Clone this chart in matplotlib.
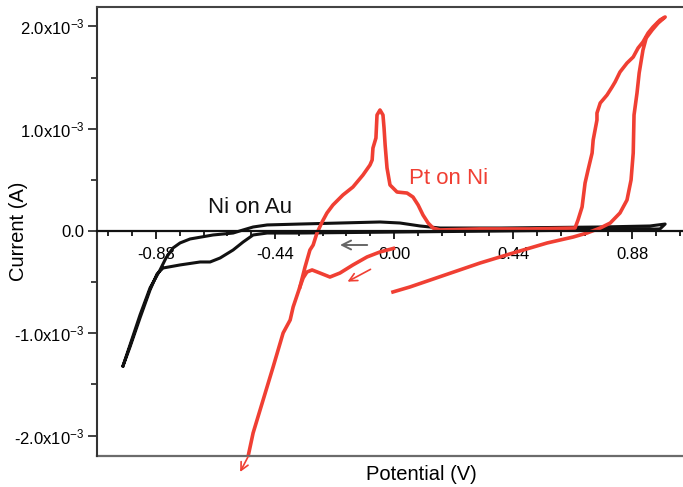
import numpy as np
import matplotlib
matplotlib.use('Agg')
import matplotlib.pyplot as plt
from matplotlib.ticker import MultipleLocator

plt.rcParams['font.family'] = ['Liberation Sans', 'DejaVu Sans']
plt.rcParams['mathtext.default'] = 'regular'
plt.rcParams['axes.unicode_minus'] = False

# Ni on Au, one closed loop (potential in V, current in mA)
ni_v = [-1.002, -0.976, -0.939, -0.902, -0.865, -0.843, -0.817, -0.791, -0.754, -0.669,
        -0.595, -0.558, -0.521, -0.469, -0.348, -0.200, -0.052, 0.022, 0.096, 0.170,
        0.392, 0.762, 0.946, 1.002,
        0.983, 0.762, 0.392, 0.022, -0.348, -0.469, -0.521, -0.558, -0.595, -0.643,
        -0.680, -0.717, -0.791, -0.854, -0.876, -0.902, -0.939, -0.976, -1.002]
ni_i = [-1.320, -1.114, -0.821, -0.557, -0.381, -0.264, -0.166, -0.117, -0.078, -0.039,
        -0.020, 0.010, 0.039, 0.059, 0.068, 0.078, 0.088, 0.078, 0.049, 0.029,
        0.029, 0.039, 0.049, 0.068,
        0.020, 0.010, 0.000, -0.010, -0.020, -0.020, -0.039, -0.108, -0.186, -0.264,
        -0.303, -0.303, -0.332, -0.362, -0.420, -0.577, -0.850, -1.134, -1.320]

# Pt on Ni, sweep from 0 V towards negative potential
pt_neg_v = [0.004, -0.052, -0.100, -0.152, -0.200, -0.237, -0.274, -0.303, -0.322, -0.336,
            -0.348, -0.373, -0.384, -0.410, -0.447, -0.484, -0.521, -0.540]
pt_neg_i = [-0.166, -0.205, -0.254, -0.332, -0.411, -0.450, -0.411, -0.381, -0.401, -0.459,
            -0.547, -0.743, -0.870, -0.997, -1.329, -1.652, -1.975, -2.209]

# Pt on Ni, sweep back to positive potential and return
pt_pos_v = [-0.348, -0.329, -0.311, -0.299, -0.285, -0.266, -0.248, -0.226, -0.189, -0.152,
            -0.115, -0.089, -0.081, -0.078, -0.067, -0.063, -0.052, -0.041, -0.037, -0.033,
            -0.026, -0.015, 0.011, 0.048, 0.070, 0.089, 0.107, 0.126, 0.144, 0.170,
            0.318, 0.503, 0.669, 0.680, 0.695, 0.706, 0.717, 0.732, 0.736, 0.750,
            0.750, 0.762, 0.787, 0.806, 0.817, 0.835, 0.861, 0.884, 0.902, 0.920,
            0.939, 0.957, 0.983, 1.002,
            0.976, 0.954, 0.932, 0.920, 0.906, 0.898, 0.887, 0.884, 0.876, 0.861,
            0.835, 0.799, 0.762, 0.713, 0.662, 0.614, 0.566, 0.440, 0.318, 0.059, -0.004]
pt_pos_i = [-0.547, -0.352, -0.186, -0.137, -0.020, 0.088, 0.176, 0.254, 0.352, 0.430,
            0.547, 0.645, 0.694, 0.811, 0.909, 1.134, 1.183, 1.134, 1.007, 0.841,
            0.616, 0.450, 0.381, 0.371, 0.332, 0.254, 0.156, 0.078, 0.029, 0.010,
            0.020, 0.020, 0.029, 0.108, 0.235, 0.469, 0.596, 0.762, 0.890, 1.085,
            1.153, 1.251, 1.329, 1.408, 1.457, 1.554, 1.642, 1.701, 1.789, 1.848,
            1.936, 1.994, 2.063, 2.092,
            2.033, 1.965, 1.887, 1.769, 1.545, 1.349, 1.134, 0.762, 0.499, 0.303,
            0.176, 0.078, 0.029, -0.020, -0.059, -0.088, -0.117, -0.215, -0.313, -0.547, -0.596]

x_ticks = [-0.88, -0.44, 0.00, 0.44, 0.88]
y_ticks = [-2.0e-3, -1.0e-3, 0.0, 1.0e-3, 2.0e-3]
y_labels = ['-2.0x10$^{-3}$', '-1.0x10$^{-3}$', '0.0', '1.0x10$^{-3}$', '2.0x10$^{-3}$']

red = '#f03f33'
mA = 1e-3

fig = plt.figure(figsize=(6.83, 4.87), dpi=100)
ax = fig.add_axes([97 / 683, 1 - 456 / 487, 1 - 97 / 683, 449 / 487])

ax.plot(ni_v, np.array(ni_i) * mA, color='#111111', lw=2.2, solid_joinstyle='round')
ax.plot(pt_neg_v, np.array(pt_neg_i) * mA, color=red, lw=2.6, clip_on=False,
        solid_joinstyle='round', solid_capstyle='butt')
ax.plot(pt_pos_v, np.array(pt_pos_i) * mA, color=red, lw=2.6, solid_joinstyle='round')

ax.set_xlim(-1.098, 1.068)
ax.set_ylim(-2.20e-3, 2.19e-3)

# frame: left and top, x axis through zero, plain line at the bottom
ax.spines['right'].set_visible(False)
ax.spines['bottom'].set_position(('data', 0))
ax.spines['bottom'].set_color('#111111')
ax.spines['bottom'].set_linewidth(1.6)
ax.spines['left'].set_color('#333333')
ax.spines['left'].set_linewidth(1.5)
ax.spines['top'].set_color('#444444')
ax.spines['top'].set_linewidth(1.5)
ax.plot([0, 1], [0, 0], transform=ax.transAxes, color='#6b6b6b', lw=1.6, clip_on=False)

ax.set_xticks(x_ticks)
ax.set_xticklabels(['%.2f' % v for v in x_ticks])
ax.xaxis.set_minor_locator(MultipleLocator(0.088))
ax.set_yticks(y_ticks)
ax.set_yticklabels(y_labels)
ax.yaxis.set_minor_locator(MultipleLocator(0.5e-3))

ax.tick_params(axis='x', which='major', direction='out', length=6, width=1.3, pad=5.5,
               labelsize=12, color='#111111')
ax.tick_params(axis='x', which='minor', direction='out', length=3.8, width=1.3, color='#111111')
ax.tick_params(axis='y', which='major', direction='out', length=6.5, width=1.3, pad=2.5,
               labelsize=12, color='#333333')
ax.tick_params(axis='y', which='minor', direction='out', length=4.3, width=1.3, color='#333333')

fig.text(421 / 683, 1 - 475 / 487, 'Potential (V)', fontsize=14.5, ha='center', va='center')
fig.text(19 / 683, 1 - 231 / 487, 'Current (A)', fontsize=14.5, ha='center', va='center',
         rotation=90)

ax.text(-0.688, 0.176 * mA, 'Ni on Au', fontsize=16, ha='left', va='baseline', color='#111111')
ax.text(0.055, 0.459 * mA, 'Pt on Ni', fontsize=16, ha='left', va='baseline', color=red)

# sweep direction arrows
ax.annotate('', xy=(-0.210, -0.137 * mA), xytext=(-0.089, -0.137 * mA),
            arrowprops=dict(arrowstyle='->', color='#666666', lw=1.4, mutation_scale=16))
ax.annotate('', xy=(-0.181, -0.508 * mA), xytext=(-0.078, -0.362 * mA),
            arrowprops=dict(arrowstyle='->', color=red, lw=1.2, mutation_scale=14))
ax.annotate('', xy=(-0.569, -2.356 * mA), xytext=(-0.540, -2.209 * mA),
            annotation_clip=False,
            arrowprops=dict(arrowstyle='->', color=red, lw=1.2, mutation_scale=14,
                            shrinkA=0, shrinkB=0, clip_on=False))

fig.savefig('out.png', dpi=100)
